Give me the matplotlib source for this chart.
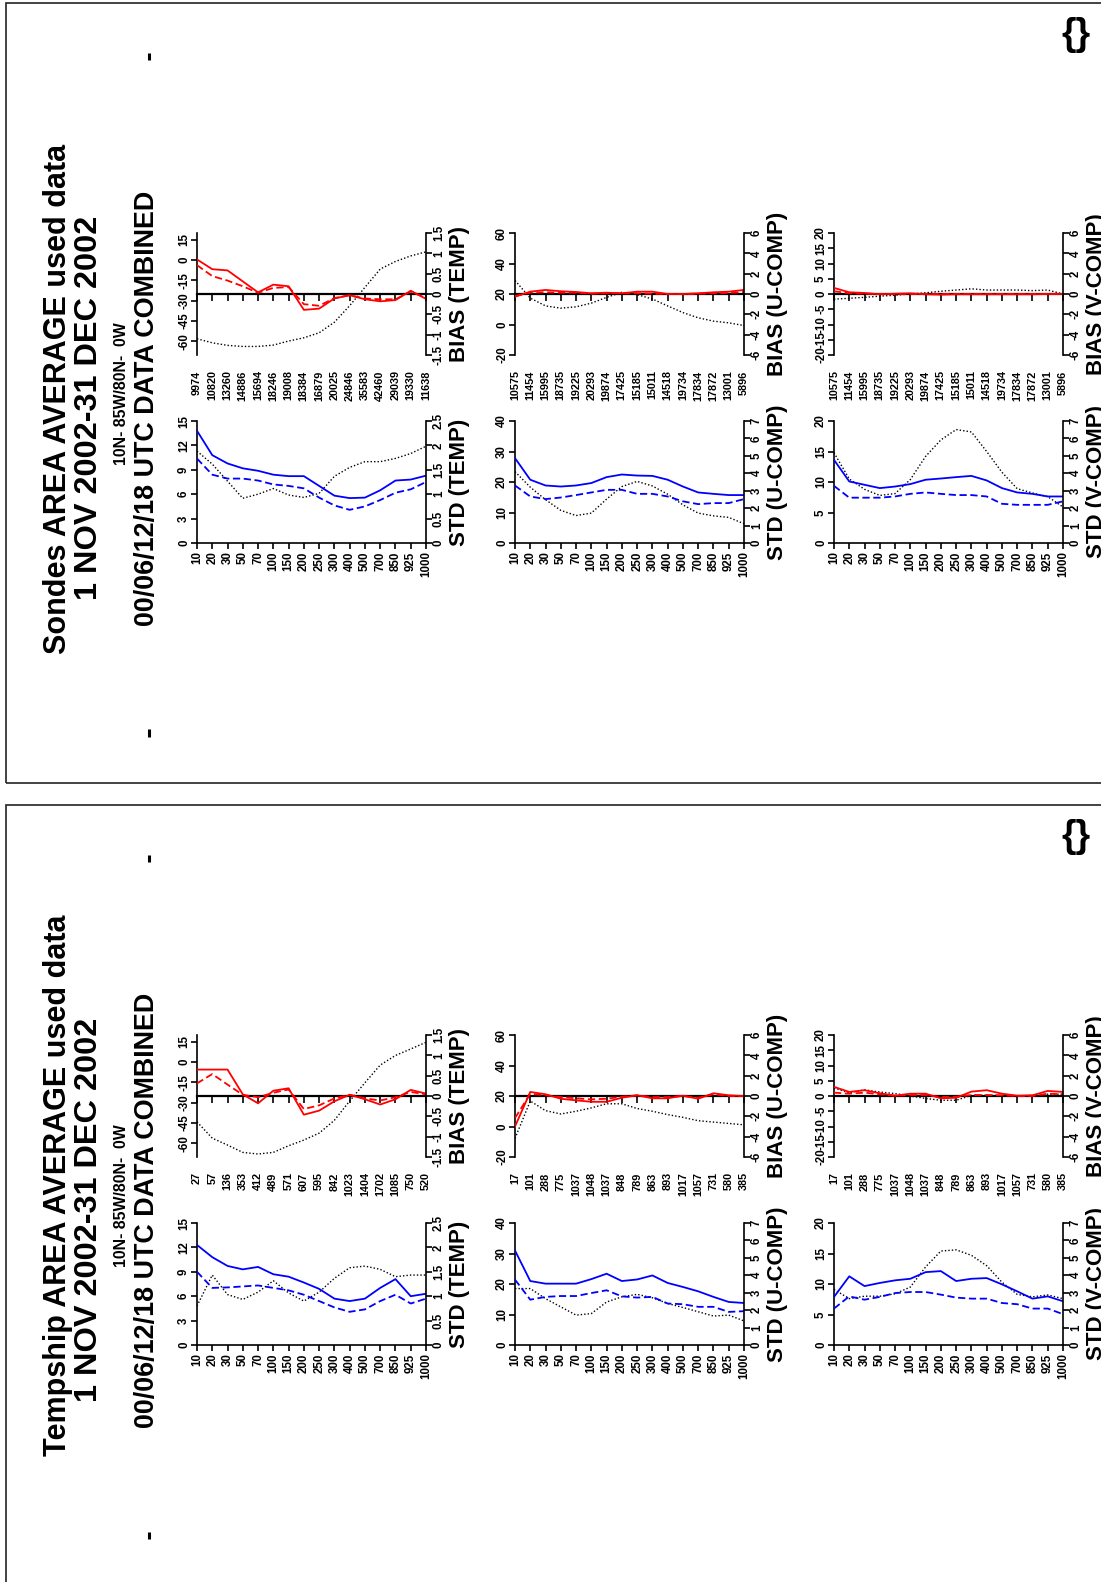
import matplotlib.pyplot as plt
from matplotlib.patches import Rectangle
from matplotlib.lines import Line2D
from matplotlib.ticker import FormatStrFormatter

plt.rcParams['font.family'] = ['Liberation Sans Narrow', 'Liberation Sans', 'DejaVu Sans']
plt.rcParams['font.weight'] = 'bold'
plt.rcParams['axes.unicode_minus'] = False

# pressure levels (hPa)
levels = ['10', '20', '30', '50', '70', '100', '150', '200', '250', '300',
          '400', '500', '700', '850', '925', '1000']

# ---- Sondes ----
s_t_std_solid = [2.30, 1.80, 1.63, 1.53, 1.48, 1.40, 1.37, 1.37, 1.17, 0.97, 0.92, 0.93, 1.08, 1.28, 1.30, 1.38]
s_t_std_dash = [1.73, 1.40, 1.32, 1.32, 1.28, 1.20, 1.17, 1.12, 0.93, 0.77, 0.68, 0.75, 0.88, 1.03, 1.10, 1.25]
s_t_std_dot = [11.3, 9.7, 7.6, 5.5, 6.0, 6.7, 5.9, 5.6, 6.1, 8.2, 9.3, 10.0, 10.0, 10.4, 11.0, 11.9]
s_t_bias_solid = [0.85, 0.61, 0.58, 0.31, 0.04, 0.23, 0.19, -0.39, -0.36, -0.11, -0.03, -0.13, -0.18, -0.15, 0.08, -0.12]
s_t_bias_dash = [0.71, 0.44, 0.33, 0.19, 0.03, 0.15, 0.17, -0.25, -0.29, -0.10, -0.03, -0.11, -0.13, -0.13, 0.06, -0.10]
s_t_bias_dot = [-58.0, -61.0, -62.9, -63.7, -63.7, -62.7, -59.7, -57.3, -53.6, -45.8, -33.6, -20.1, -6.6, -1.0, 3.1, 6.1]
s_t_n = [9974, 10820, 13260, 14886, 15694, 18246, 19008, 18384, 16879, 20025, 24846, 35583, 42460, 29039, 19330, 11638]

s_u_std_solid = [4.87, 3.63, 3.30, 3.24, 3.30, 3.44, 3.78, 3.93, 3.87, 3.85, 3.63, 3.24, 2.90, 2.82, 2.75, 2.75]
s_u_std_dash = [3.30, 2.67, 2.52, 2.61, 2.75, 2.90, 3.05, 3.05, 2.82, 2.82, 2.67, 2.39, 2.23, 2.29, 2.29, 2.52]
s_u_std_dot = [23.4, 18.3, 14.2, 10.7, 9.0, 9.8, 14.4, 18.5, 20.2, 18.7, 16.0, 12.5, 9.8, 8.9, 8.4, 6.3]
s_u_bias_solid = [-0.27, 0.23, 0.40, 0.27, 0.20, 0.07, 0.13, 0.07, 0.23, 0.23, 0.0, 0.0, 0.07, 0.17, 0.23, 0.40]
s_u_bias_dash = [-0.20, 0.13, 0.17, 0.13, 0.13, 0.03, 0.07, 0.07, 0.07, 0.03, 0.0, 0.0, 0.03, 0.07, 0.10, 0.20]
s_u_bias_dot = [28.9, 17.3, 12.2, 10.7, 11.6, 14.0, 17.8, 21.1, 19.6, 16.7, 12.2, 7.8, 4.4, 2.2, 1.1, -0.7]
s_uv_n = [10575, 11454, 15995, 18735, 19225, 20293, 19874, 17425, 15185, 15011, 14518, 19734, 17834, 17872, 13001, 5896]

s_v_std_solid = [4.77, 3.53, 3.34, 3.15, 3.24, 3.38, 3.63, 3.70, 3.78, 3.85, 3.59, 3.15, 2.90, 2.82, 2.67, 2.67]
s_v_std_dash = [3.28, 2.60, 2.60, 2.60, 2.67, 2.82, 2.90, 2.82, 2.75, 2.75, 2.67, 2.25, 2.19, 2.19, 2.19, 2.39]
s_v_std_dot = [14.8, 10.5, 8.8, 7.8, 8.1, 10.4, 14.2, 16.9, 18.6, 18.2, 15.0, 11.6, 8.9, 8.2, 7.6, 5.9]
s_v_bias_solid = [0.60, 0.17, 0.10, -0.03, 0.03, 0.07, -0.03, -0.07, -0.03, -0.03, -0.03, -0.03, -0.03, -0.03, 0.0, 0.0]
s_v_bias_dash = [0.27, 0.07, 0.03, 0.0, 0.0, 0.0, 0.0, 0.0, 0.0, 0.0, 0.0, 0.0, 0.0, 0.0, 0.0, 0.0]
s_v_bias_dot = [-1.7, -1.4, -1.1, -0.7, -0.4, 0.0, 0.4, 0.9, 1.3, 1.7, 1.3, 1.3, 1.3, 1.1, 1.3, 0.0]

# ---- Tempship ----
p_t_std_solid = [2.05, 1.80, 1.62, 1.55, 1.60, 1.45, 1.40, 1.28, 1.15, 0.95, 0.90, 0.95, 1.17, 1.35, 1.00, 1.05]
p_t_std_dash = [1.50, 1.17, 1.18, 1.20, 1.22, 1.17, 1.12, 1.03, 0.90, 0.77, 0.68, 0.73, 0.90, 1.03, 0.85, 0.95]
p_t_std_dot = [4.8, 8.6, 6.2, 5.6, 6.5, 7.9, 6.4, 5.4, 6.5, 8.2, 9.5, 9.7, 9.3, 8.4, 8.6, 8.6]
p_t_bias_solid = [0.65, 0.65, 0.65, 0.04, -0.18, 0.13, 0.19, -0.46, -0.36, -0.13, 0.03, -0.08, -0.21, -0.08, 0.15, 0.06]
p_t_bias_dash = [0.31, 0.54, 0.28, 0.03, -0.03, 0.08, 0.16, -0.32, -0.23, -0.06, 0.03, -0.06, -0.11, -0.03, 0.10, 0.04]
p_t_bias_dot = [-44.1, -56.1, -61.2, -66.6, -67.8, -66.6, -61.7, -57.5, -52.4, -42.9, -28.7, -15.2, -2.2, 4.9, 9.7, 14.6]
p_t_n = [27, 57, 136, 353, 412, 489, 571, 607, 595, 842, 1023, 1404, 1702, 1085, 750, 520]

p_u_std_solid = [5.42, 3.67, 3.52, 3.52, 3.52, 3.78, 4.09, 3.67, 3.76, 3.99, 3.56, 3.33, 3.08, 2.76, 2.47, 2.41]
p_u_std_dash = [3.75, 2.60, 2.76, 2.81, 2.81, 2.98, 3.14, 2.79, 2.72, 2.76, 2.38, 2.34, 2.19, 2.19, 1.90, 1.94]
p_u_std_dot = [18.5, 18.5, 15.2, 12.5, 9.8, 10.3, 14.1, 15.8, 16.6, 15.5, 13.6, 12.3, 10.9, 9.5, 9.8, 7.9]
p_u_bias_solid = [-3.0, 0.40, 0.17, -0.27, -0.43, -0.57, -0.57, -0.17, 0.07, -0.23, -0.23, 0.03, -0.27, 0.27, 0.07, 0.0]
p_u_bias_dash = [-2.17, 0.23, 0.07, -0.10, -0.23, -0.33, -0.27, -0.07, 0.07, -0.10, -0.10, 0.0, -0.17, 0.17, 0.0, 0.0]
p_u_bias_dot = [-7.8, 16.7, 10.4, 8.2, 10.0, 12.2, 14.9, 14.9, 11.8, 10.0, 7.8, 6.0, 3.8, 2.9, 2.0, 1.1]
p_uv_n = [17, 101, 288, 775, 1037, 1048, 1037, 848, 789, 863, 893, 1017, 1057, 731, 580, 385]

p_v_std_solid = [2.76, 3.94, 3.38, 3.56, 3.71, 3.80, 4.18, 4.24, 3.67, 3.80, 3.84, 3.48, 3.08, 2.66, 2.79, 2.51]
p_v_std_dash = [2.09, 2.79, 2.60, 2.76, 2.98, 3.04, 3.04, 2.89, 2.72, 2.66, 2.66, 2.41, 2.34, 2.09, 2.09, 1.77]
p_v_std_dot = [9.1, 7.6, 8.0, 8.0, 8.4, 9.5, 12.8, 15.4, 15.6, 14.7, 13.0, 10.3, 8.3, 7.9, 8.2, 7.6]
p_v_bias_solid = [0.90, 0.40, 0.57, 0.27, 0.03, 0.23, 0.23, -0.23, -0.17, 0.43, 0.57, 0.23, 0.03, 0.07, 0.50, 0.40]
p_v_bias_dash = [0.33, 0.23, 0.33, 0.17, 0.03, 0.10, 0.10, -0.10, -0.07, 0.10, 0.10, 0.07, 0.0, 0.0, 0.23, 0.17]
p_v_bias_dot = [2.6, 1.1, 2.0, 1.3, 0.8, 0.0, -0.8, -1.4, -1.4, 0.2, 0.2, 0.2, 0.0, 0.2, 0.6, 0.6]

W, H = 1101, 1582
fig = plt.figure(figsize=(W / 100, H / 100), dpi=100)
x = list(range(len(levels)))
BLUE, RED = '#0000ff', '#ff0000'
LAB = dict(family='Liberation Sans', weight='bold')


def rect(px, py, pw, ph):  # pixel box (top-left origin) -> figure fraction
    return [px / W, 1 - (py + ph) / H, pw / W, ph / H]


def fy(py):  # pixel row -> figure fraction
    return 1 - py / H


def style(ax, ax2, llim, lticks, rlim, rticks, name):
    ax.set_xlim(0, len(levels) - 1)
    ax.set_ylim(*llim)
    ax.set_yticks(lticks)
    ax2.set_ylim(*rlim)
    ax2.set_yticks(rticks)
    for a in (ax, ax2):
        a.yaxis.set_major_formatter(FormatStrFormatter('%g'))
        a.spines['top'].set_visible(False)
        a.tick_params(axis='y', length=4, width=1.2, pad=1, labelsize=8.3, labelrotation=90)
        plt.setp(a.get_yticklabels(), va='center')
    ax.spines['right'].set_visible(False)
    ax2.spines['left'].set_visible(False)
    ax2.spines['bottom'].set_visible(False)
    for s in ('left', 'bottom'):
        ax.spines[s].set_linewidth(1.2)
    ax2.spines['right'].set_linewidth(1.2)
    ax2.set_ylabel(name, fontsize=16, labelpad=3, **LAB)


def std_panel(px, py, solid, dash, dot, llim, lticks, rlim, rticks, name):
    ax = fig.add_axes(rect(px, py, 229, 122))
    ax2 = ax.twinx()
    ax.plot(x, dot, color='k', lw=1.0, ls=(0, (1, 1.5)))
    ax2.plot(x, solid, color=BLUE, lw=1.3)
    ax2.plot(x, dash, color=BLUE, lw=1.3, ls=(0, (4, 2)))
    style(ax, ax2, llim, lticks, rlim, rticks, name)
    ax.set_xticks(x, levels)
    ax.tick_params(axis='x', length=4, width=1.2, pad=2, labelsize=8.3, labelrotation=90)


def bias_panel(px, py, solid, dash, dot, counts, llim, lticks, rlim, rticks, name):
    ax = fig.add_axes(rect(px, py, 229, 122))
    ax2 = ax.twinx()
    ax.plot(x, dot, color='k', lw=1.0, ls=(0, (1, 1.5)))
    ax2.plot(x, solid, color=RED, lw=1.3)
    ax2.plot(x, dash, color=RED, lw=1.3, ls=(0, (4, 2)))
    style(ax, ax2, llim, lticks, rlim, rticks, name)
    ax.spines['bottom'].set_position(('axes', 0.5))
    ax.spines['bottom'].set_linewidth(1.6)
    ax.set_xticks(x)
    ax.tick_params(axis='x', length=5, width=1.2, labelbottom=False)
    sec = ax.secondary_xaxis('bottom')
    sec.set_xticks(x, [str(n) for n in counts])
    sec.tick_params(length=0, pad=11, labelsize=7.8, labelrotation=90)
    sec.spines['bottom'].set_visible(False)


pages = [
    ('Sondes AREA AVERAGE used data', 0, [
        (s_t_std_solid, s_t_std_dash, s_t_std_dot, s_t_bias_solid, s_t_bias_dash, s_t_bias_dot, s_t_n),
        (s_u_std_solid, s_u_std_dash, s_u_std_dot, s_u_bias_solid, s_u_bias_dash, s_u_bias_dot, s_uv_n),
        (s_v_std_solid, s_v_std_dash, s_v_std_dot, s_v_bias_solid, s_v_bias_dash, s_v_bias_dot, s_uv_n)]),
    ('Tempship AREA AVERAGE used data', 802, [
        (p_t_std_solid, p_t_std_dash, p_t_std_dot, p_t_bias_solid, p_t_bias_dash, p_t_bias_dot, p_t_n),
        (p_u_std_solid, p_u_std_dash, p_u_std_dot, p_u_bias_solid, p_u_bias_dash, p_u_bias_dot, p_uv_n),
        (p_v_std_solid, p_v_std_dash, p_v_std_dot, p_v_bias_solid, p_v_bias_dash, p_v_bias_dot, p_uv_n)]),
]

# per variable: std left/right scales, bias left/right scales
var_names = ['TEMP', 'U-COMP', 'V-COMP']
col_x = [197, 515, 834]
std_left = [((0, 15), [0, 3, 6, 9, 12, 15]), ((0, 40), [0, 10, 20, 30, 40]), ((0, 20), [0, 5, 10, 15, 20])]
std_right = [((0, 2.5), [0, 0.5, 1, 1.5, 2, 2.5]), ((0, 7), list(range(8))), ((0, 7), list(range(8)))]
bias_left = [((-70, 20), [-60, -45, -30, -15, 0, 15]), ((-20, 60), [-20, 0, 20, 40, 60]),
             ((-20, 20), [-20, -15, -10, -5, 0, 5, 10, 15, 20])]
bias_right = [((-1.5, 1.5), [-1.5, -1, -0.5, 0, 0.5, 1, 1.5]), ((-6, 6), [-6, -4, -2, 0, 2, 4, 6]),
              ((-6, 6), [-6, -4, -2, 0, 2, 4, 6])]

for title, off, series in pages:
    # page frame
    fig.add_artist(Rectangle((6 / W, fy(off + 783)), 1200 / W, 780 / H, transform=fig.transFigure,
                             fill=False, lw=1.2, ec='#222222'))
    for my in (56, 733):
        fig.add_artist(Line2D([148.5 / W, 148.5 / W], [fy(off + my - 3.5), fy(off + my + 3.5)],
                              lw=2.2, color='k', solid_capstyle='butt'))
    fig.text(1076 / W, fy(off + 35), '{}', fontsize=27, ha='center', va='center')
    fig.text(58 / W, fy(off + 654), title, rotation=90, ha='center', va='bottom', fontsize=22, **LAB)
    fig.text(89 / W, fy(off + 408), '1 NOV 2002-31 DEC 2002', rotation=90, ha='center', va='center',
             fontsize=23.4, **LAB)
    fig.text(121 / W, fy(off + 394), '10N- 85W/80N-  0W', rotation=90, ha='center', va='center',
             fontsize=11.4)
    fig.text(147 / W, fy(off + 408), '00/06/12/18 UTC DATA COMBINED', rotation=90, ha='center',
             va='center', fontsize=19.4, **LAB)
    for i, (sa, sb, sd, ba, bb, bd, cnt) in enumerate(series):
        std_panel(col_x[i], off + 421, sa, sb, sd, *std_left[i], *std_right[i], 'STD (%s)' % var_names[i])
        bias_panel(col_x[i], off + 233, ba, bb, bd, cnt, *bias_left[i], *bias_right[i], 'BIAS (%s)' % var_names[i])

fig.savefig('out.png', dpi=100)
